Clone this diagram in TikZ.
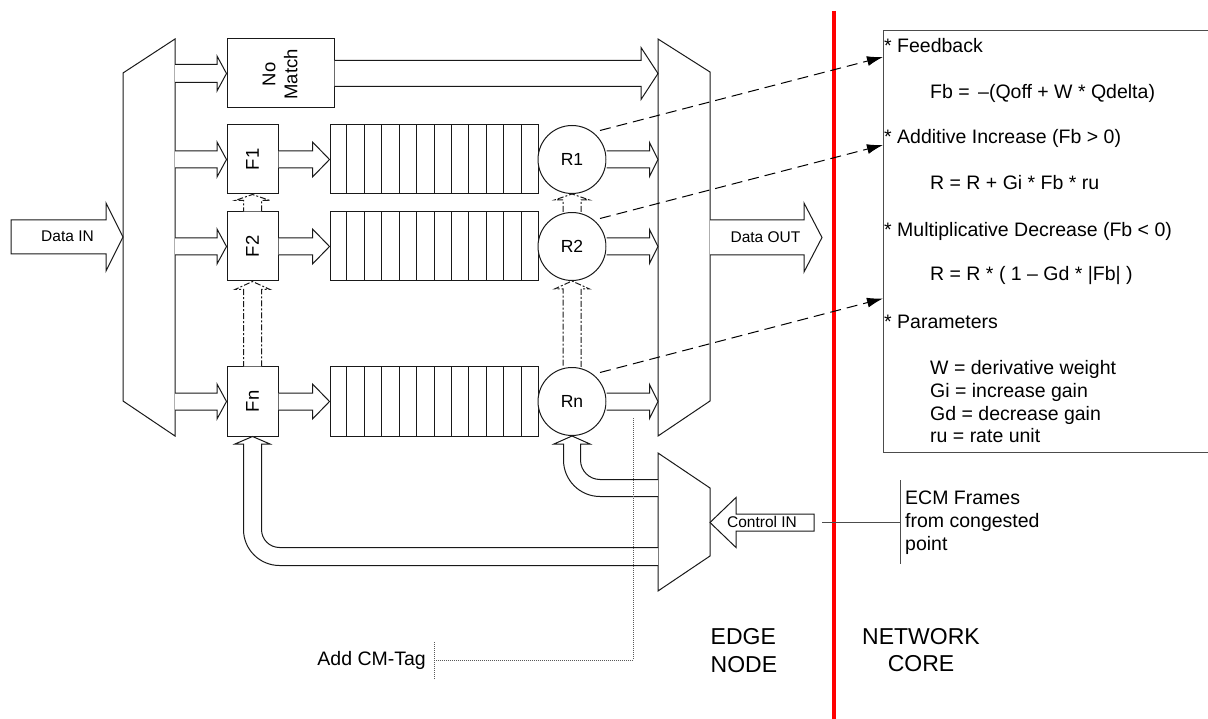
\documentclass[tikz,border=0pt]{standalone}
\usepackage{fontspec}
\setmainfont{Liberation Sans}
\usetikzlibrary{arrows.meta,calc}
\newcommand{\myfs}[1]{\fontsize{#1}{#1}\selectfont}
% horizontal fat arrow, open tail: [style]{start}{tip}{half body}{half head}{head length}
\newcommand{\fatH}[6][fat]{%
  \draw[#1] let \p1=#2, \p2=#3 in
    ({\x1},{\y2+#4}) -- ({\x2-(#6)},{\y2+#4}) -- ({\x2-(#6)},{\y2+#5}) -- (\p2)
    -- ({\x2-(#6)},{\y2-#5}) -- ({\x2-(#6)},{\y2-#4}) -- ({\x1},{\y2-#4});}
% horizontal fat arrow, closed tail
\newcommand{\fatHc}[6][fat]{%
  \draw[#1] let \p1=#2, \p2=#3 in
    ({\x1},{\y2+#4}) -- ({\x2-(#6)},{\y2+#4}) -- ({\x2-(#6)},{\y2+#5}) -- (\p2)
    -- ({\x2-(#6)},{\y2-#5}) -- ({\x2-(#6)},{\y2-#4}) -- ({\x1},{\y2-#4}) -- cycle;}
% vertical (upward) fat arrow, open tail
\newcommand{\fatV}[6][fat]{%
  \draw[#1] let \p1=#2, \p2=#3 in
    ({\x2+#4},{\y1}) -- ({\x2+#4},{\y2-(#6)}) -- ({\x2+#5},{\y2-(#6)}) -- (\p2)
    -- ({\x2-#5},{\y2-(#6)}) -- ({\x2-#4},{\y2-(#6)}) -- ({\x2-#4},{\y1});}
\tikzset{
  ln/.style={draw=black!90, line width=1pt, line join=miter},
  fat/.style={ln, fill=white},
  fatd/.style={ln, fill=white, dash pattern=on 6pt off 2pt on 2pt off 2pt},
  boxn/.style={ln, fill=white, minimum width=51pt, minimum height=69pt, inner sep=0pt},
  queue/.style={ln, fill=white, minimum width=208pt, minimum height=69pt, inner sep=0pt},
  rate/.style={ln, fill=white, circle, minimum size=68pt, inner sep=0pt, font=\myfs{17.5}},
  lbl/.style={inner sep=0pt},
  rot/.style={inner sep=0pt, rotate=90, font=\myfs{18.5}},
  fbk/.style={draw=black, line width=1pt, dash pattern=on 11pt off 6pt, -{Latex[length=16pt,width=10pt]}},
  dotln/.style={draw=black!65, line width=0.8pt, dash pattern=on 1pt off 1pt},
  gln/.style={draw=black!70, line width=1pt},
  txt/.style={inner sep=0pt, anchor=base west, font=\myfs{19.5}},
}
\begin{document}
\begin{tikzpicture}[x=1pt,y=-1pt]
\useasboundingbox (0,0) rectangle (1208,719);
% red separator
\coordinate (redT) at (834,11);
\coordinate (redB) at (834,719);
\draw[red, line width=4.3pt] (redT) -- (redB);

% multiplexers
\coordinate (lm1) at (123,73); \coordinate (lm2) at (175,39);
\coordinate (lm3) at (175,436); \coordinate (lm4) at (123,401);
\draw[ln] (lm1) -- (lm2) -- (lm3) -- (lm4) -- cycle;
\coordinate (rm1) at (658,39); \coordinate (rm2) at (710,72);
\coordinate (rm3) at (710,401); \coordinate (rm4) at (658,436);
\draw[ln] (rm1) -- (rm2) -- (rm3) -- (rm4) -- cycle;
\coordinate (cm1) at (658,453); \coordinate (cm2) at (710,488);
\coordinate (cm3) at (710,556); \coordinate (cm4) at (658,591);
\draw[ln] (cm1) -- (cm2) -- (cm3) -- (cm4) -- cycle;

% boxes
\node[boxn, minimum width=107pt] (nm) at (280.5,73.5) {};
\node[rot, align=center, font=\fontsize{18.5}{22}\selectfont] at (280,74.5) {No\\Match};
\node[boxn] (F1) at (252.5,159.5) {};
\node[boxn] (F2) at (252.5,246.5) {};
\node[boxn] (Fn) at (252.5,401.5) {};
\node[rot] at (F1) {F1};
\node[rot] at (F2) {F2};
\node[rot] at (Fn) {Fn};

% queues
\foreach \q/\yy in {Q1/159.5, Q2/246.5, Qn/401.5}{
  \node[queue] (\q) at (434,\yy) {};
  \foreach \k in {1,...,11}
    \draw[ln] ($(\q.north west)!\k/12!(\q.north east)$) -- ($(\q.south west)!\k/12!(\q.south east)$);
}

% rate limiters
\node[rate] (R1) at (572,159.5) {R1};
\node[rate] (R2) at (572,246.5) {R2};
\node[rate] (Rn) at (572,401.5) {Rn};

% data arrows
\fatH{(lm2)}{(nm.west)}{9pt}{17.5pt}{9.5pt}
\fatH{(lm2)}{(F1.west)}{8.5pt}{17.5pt}{9.5pt}
\fatH{(lm2)}{(F2.west)}{8.5pt}{17.5pt}{9.5pt}
\fatH{(lm2)}{(Fn.west)}{8.5pt}{17.5pt}{9.5pt}
\fatH{(F1.east)}{(Q1.west)}{8.5pt}{17.5pt}{17pt}
\fatH{(F2.east)}{(Q2.west)}{8.5pt}{17.5pt}{17pt}
\fatH{(Fn.east)}{(Qn.west)}{8.5pt}{17.5pt}{17pt}
\fatH{(R1.east)}{(rm1 |- R1.east)}{8.5pt}{17pt}{8.5pt}
\fatH{(R2.east)}{(rm1 |- R2.east)}{8.5pt}{17pt}{8.5pt}
\fatH{(Rn.east)}{(rm1 |- Rn.east)}{8.5pt}{17pt}{8.5pt}
\fatH{(nm.east)}{(rm1 |- nm.east)}{13pt}{26pt}{17pt}

\coordinate (din) at (11,237);
\fatHc{(din)}{(lm1 |- din)}{17pt}{34pt}{17pt}
\node[lbl, font=\myfs{15.5}, anchor=base] at (67.5,242) {Data IN};
\coordinate (dout) at (822,237.5);
\fatH{(rm2)}{(dout)}{17.5pt}{34.5pt}{18pt}
\node[lbl, font=\myfs{15.5}, anchor=base] at (765.5,242.5) {Data OUT};
\coordinate (cin) at (814,522.5);
\fatHc{(cin)}{(cm2 |- cin)}{8.5pt}{25pt}{-26pt}
\node[lbl, font=\myfs{15.5}, anchor=base] at (762,527.5) {Control IN};

% dashed vertical links
\fatV[fatd]{(F2.north)}{(F1.south)}{9pt}{17.5pt}{6pt}
\fatV[fatd]{(Fn.north)}{(F2.south)}{9pt}{17.5pt}{8pt}
\fatV[fatd]{(R2.north)}{(R1.south)}{9pt}{17.5pt}{6pt}
\fatV[fatd]{(Rn.north)}{(R2.south)}{9pt}{17.5pt}{8pt}

% control feedback to Rn
\draw[fat] (cm1 |- 0,479.5) -- (600,479.5)
  .. controls (589.23,479.5) and (580.5,470.77) .. (580.5,460) -- (580.5,444)
  -- (590,444) -- (Rn.south) -- (554,444) -- (563.5,444) -- (563.5,460)
  .. controls (563.5,480.15) and (579.85,496.5) .. (600,496.5) -- (cm1 |- 0,496.5);
% control feedback to Fn
\draw[fat] (cm1 |- 0,547.5) -- (279.5,547.5)
  .. controls (269.56,547.5) and (261.5,539.44) .. (261.5,529.5) -- (261.5,444)
  -- (270,444) -- (Fn.south) -- (235,444) -- (243.5,444) -- (243.5,529.5)
  .. controls (243.5,549.37) and (259.63,565.5) .. (279.5,565.5) -- (cm1 |- 0,565.5);

% text box
\coordinate (tbTL) at (883,31);
\coordinate (tbBL) at (883,452);
\draw[gln] (1210,31) -- (tbTL) -- (tbBL) -- (1210,452);
\coordinate (fb1) at (883,57);
\coordinate (fb2) at (883,145);
\coordinate (fb3) at (883,298.5);
\draw[fbk] ($(R1)+(28,-29)$) -- (fb1);
\draw[fbk] ($(R2)+(28,-28)$) -- (fb2);
\draw[fbk] ($(Rn)+(28,-29)$) -- (fb3);

\node[txt] at (884,52.5) {* Feedback};
\node[txt] at (930,99) {Fb = \kern3pt–(Qoff + W * Qdelta)};
\node[txt] at (884,144) {* Additive Increase (Fb > 0)};
\node[txt] at (930,190) {R = R + Gi * Fb * ru};
\node[txt] at (884,237) {* Multiplicative Decrease (Fb < 0)};
\node[txt] at (930,281) {R = R * ( 1 – Gd * |Fb| )};
\node[txt] at (884,328.5) {* Parameters};
\node[txt] at (930,374.5) {W = derivative weight};
\node[txt] at (930,397.5) {Gi = increase gain};
\node[txt] at (930,420) {Gd = decrease gain};
\node[txt] at (930,442.7) {ru = rate unit};

% ECM callout
\coordinate (ecA) at (822,522);
\coordinate (ecB) at (900,522);
\draw[gln] (ecA) -- (ecB);
\draw[gln] ($(ecB)+(0,-42)$) -- ($(ecB)+(0,42)$);
\node[txt] at (905,504) {ECM Frames};
\node[txt] at (905,527) {from congested};
\node[txt] at (905,550) {point};

% CM-Tag callout
\coordinate (tagA) at (633,418);
\coordinate (tagB) at (633,660);
\coordinate (tagC) at (434,660);
\draw[dotln] (tagA) -- (tagB) -- (tagC);
\draw[dotln] ($(tagC)+(0,-18)$) -- ($(tagC)+(0,19)$);
\node[txt, anchor=base east] at (426,665.5) {Add CM-Tag};

% region labels
\node[lbl, anchor=base west, font=\myfs{23}] at (710.5,644.3) {EDGE};
\node[lbl, anchor=base west, font=\myfs{23}] at (710.5,672.3) {NODE};
\node[lbl, anchor=base, font=\myfs{23}] at (921,644.3) {NETWORK};
\node[lbl, anchor=base, font=\myfs{23}] at (921,671.7) {CORE};
\end{tikzpicture}
\end{document}
